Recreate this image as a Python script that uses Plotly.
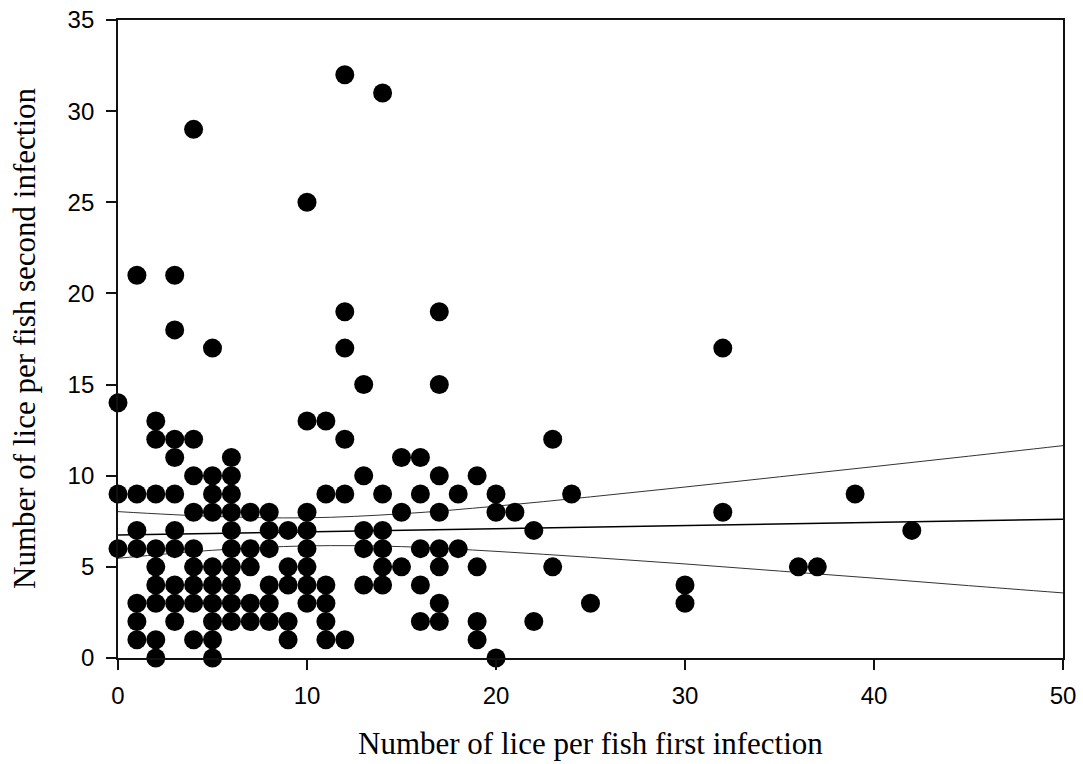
import plotly.graph_objects as go

# Scatter data: lice per fish (first infection, second infection)
first_infection = (
    [0]*3 + [1]*7 + [2]*9 + [3]*10 + [4]*9 + [5]*10 + [6]*10 + [7]*5 + [8]*6 + [9]*5 +
    [10]*8 + [11]*6 + [12]*6 + [13]*5 + [14]*6 + [15]*3 + [16]*5 + [17]*8 + [18]*2 +
    [19]*4 + [20]*3 + [21] + [22]*2 + [23]*2 + [24] + [25] + [30]*2 + [32]*2 +
    [36] + [37] + [39] + [42]
)
second_infection = [
    14, 9, 6,
    21, 9, 7, 6, 3, 2, 1,
    13, 12, 9, 6, 5, 4, 3, 1, 0,
    21, 18, 12, 11, 9, 7, 6, 4, 3, 2,
    29, 12, 10, 8, 6, 5, 4, 3, 1,
    17, 10, 9, 8, 5, 4, 3, 2, 1, 0,
    11, 10, 9, 8, 7, 6, 5, 4, 3, 2,
    8, 6, 5, 3, 2,
    8, 7, 6, 4, 3, 2,
    7, 5, 4, 2, 1,
    25, 13, 8, 7, 6, 5, 4, 3,
    13, 9, 4, 3, 2, 1,
    32, 19, 17, 12, 9, 1,
    15, 10, 7, 6, 4,
    31, 9, 7, 6, 5, 4,
    11, 8, 5,
    11, 9, 6, 4, 2,
    19, 15, 10, 8, 6, 5, 3, 2,
    9, 6,
    10, 5, 2, 1,
    9, 8, 0,
    8,
    7, 2,
    12, 5,
    9,
    3,
    4, 3,
    17, 8,
    5,
    5,
    9,
    7,
]

# Regression line and 95% confidence band
line_x = [0, 5, 10, 15, 20, 25, 30, 35, 40, 45, 50]
fit_y = [6.75, 6.84, 6.92, 7.01, 7.09, 7.18, 7.27, 7.35, 7.44, 7.52, 7.61]
upper_y = [8.03, 7.77, 7.69, 7.91, 8.33, 8.84, 9.38, 9.94, 10.50, 11.07, 11.65]
lower_y = [5.47, 5.91, 6.15, 6.11, 5.85, 5.52, 5.16, 4.77, 4.38, 3.97, 3.57]

x_ticks = [0, 10, 20, 30, 40, 50]
y_ticks = [0, 5, 10, 15, 20, 25, 30, 35]
x_title = "Number of lice per fish first infection"
y_title = "Number of lice per fish second infection"

fig = go.Figure()
fig.add_trace(go.Scatter(x=line_x, y=upper_y, mode="lines", line=dict(color="#333333", width=1, shape="spline"),
                         showlegend=False, hoverinfo="skip"))
fig.add_trace(go.Scatter(x=line_x, y=lower_y, mode="lines", line=dict(color="#333333", width=1, shape="spline"),
                         showlegend=False, hoverinfo="skip"))
fig.add_trace(go.Scatter(x=line_x, y=fit_y, mode="lines", line=dict(color="black", width=1.5),
                         showlegend=False, hoverinfo="skip"))
fig.add_trace(go.Scatter(x=first_infection, y=second_infection, mode="markers",
                         marker=dict(color="black", size=19, line=dict(width=0)),
                         cliponaxis=False, showlegend=False))

axis_common = dict(
    showgrid=False, zeroline=False, showline=True, linecolor="#111111", linewidth=1.8,
    mirror=True, ticks="outside", ticklen=10, tickwidth=1.8, tickcolor="#111111",
    tickfont=dict(family="Liberation Sans, Arial", size=24, color="black"),
    automargin=False,
)

title_font = dict(family="Liberation Serif, Times New Roman", size=31, color="black")

fig.update_layout(
    width=1083, height=764,
    margin=dict(l=118, r=20, t=20, b=106),
    paper_bgcolor="white", plot_bgcolor="white",
    xaxis=dict(range=[0, 50], tickvals=x_ticks, ticklabelstandoff=5, **axis_common),
    yaxis=dict(range=[0, 35], tickvals=y_ticks, ticklabelstandoff=7, **axis_common),
    annotations=[
        dict(text=x_title, xref="paper", yref="paper", x=0.5, y=0, xanchor="center", yanchor="middle",
             yshift=-85, showarrow=False, font=title_font, borderpad=0),
        dict(text=y_title, xref="paper", yref="paper", x=0, y=0.5, xanchor="center", yanchor="middle",
             xshift=-94, textangle=-90, showarrow=False, font=title_font, borderpad=0),
    ],
)

fig.write_html("out.html")
